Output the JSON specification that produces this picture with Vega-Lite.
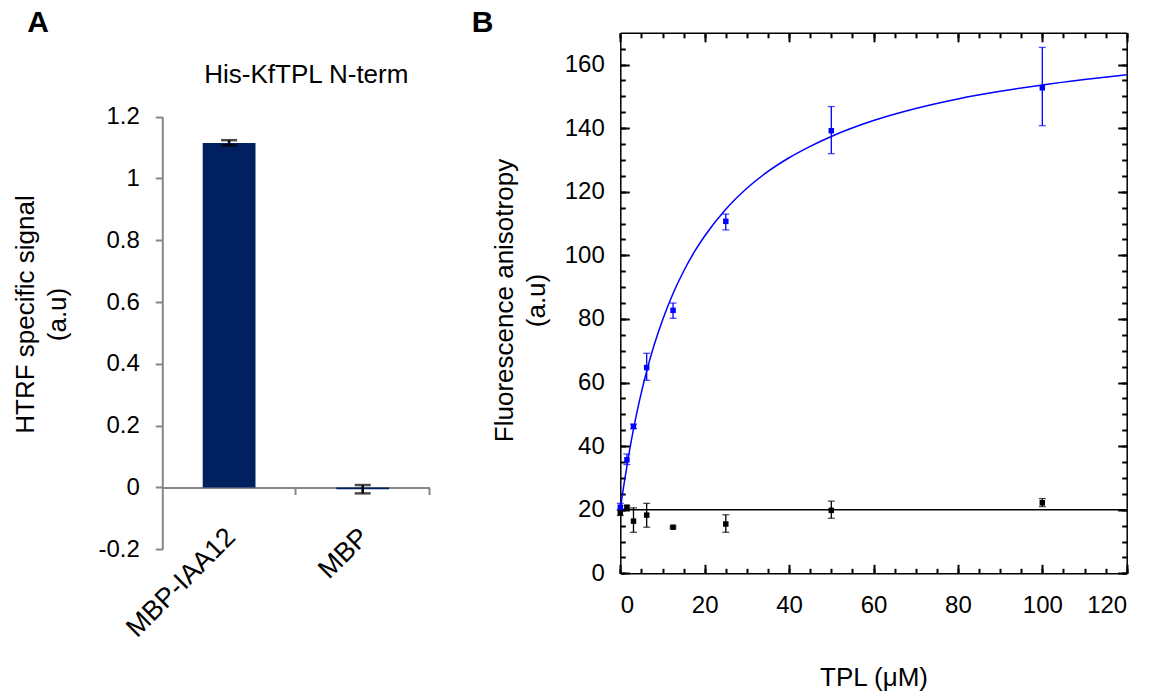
{
  "$schema": "https://vega.github.io/schema/vega-lite/v6.json",
  "width": 1162,
  "height": 693,
  "autosize": "none",
  "padding": 0,
  "background": "white",
  "config": {
    "view": {"stroke": null},
    "axis": {
      "grid": false,
      "labelFont": "Liberation Sans",
      "titleFont": "Liberation Sans",
      "labelColor": "black",
      "titleColor": "black",
      "titleFontWeight": "normal",
      "labelFontSize": 24,
      "titleFontSize": 26
    }
  },
  "datasets": {
    "htrf": [
      {"construct": "MBP-IAA12", "signal": 1.115, "lo": 1.107, "hi": 1.124},
      {"construct": "MBP", "signal": -0.006, "lo": -0.019, "hi": 0.008}
    ],
    "anisotropy": [
      {"sample": "IAA12", "tpl": 0, "mean": 20.8, "lo": 19.8, "hi": 22.0},
      {"sample": "IAA12", "tpl": 1.5625, "mean": 35.7, "lo": 34.2, "hi": 37.5},
      {"sample": "IAA12", "tpl": 3.125, "mean": 46.2, "lo": 45.5, "hi": 46.9},
      {"sample": "IAA12", "tpl": 6.25, "mean": 64.7, "lo": 60.7, "hi": 69.2},
      {"sample": "IAA12", "tpl": 12.5, "mean": 82.7, "lo": 80.2, "hi": 85.0},
      {"sample": "IAA12", "tpl": 25, "mean": 110.7, "lo": 108.0, "hi": 113.0},
      {"sample": "IAA12", "tpl": 50, "mean": 139.2, "lo": 132.0, "hi": 146.8},
      {"sample": "IAA12", "tpl": 100, "mean": 152.7, "lo": 140.8, "hi": 165.4},
      {"sample": "control", "tpl": 0, "mean": 19.0, "lo": 18.2, "hi": 20.0},
      {"sample": "control", "tpl": 1.5625, "mean": 20.8, "lo": 20.3, "hi": 21.3},
      {"sample": "control", "tpl": 3.125, "mean": 16.4, "lo": 12.9, "hi": 20.6},
      {"sample": "control", "tpl": 6.25, "mean": 18.3, "lo": 14.5, "hi": 22.0},
      {"sample": "control", "tpl": 12.5, "mean": 14.5, "lo": 14.2, "hi": 14.8},
      {"sample": "control", "tpl": 25, "mean": 15.5, "lo": 12.9, "hi": 18.4},
      {"sample": "control", "tpl": 50, "mean": 19.8, "lo": 17.3, "hi": 22.7},
      {"sample": "control", "tpl": 100, "mean": 22.2, "lo": 21.0, "hi": 23.5}
    ],
    "fits": [
      {"sample": "IAA12", "tpl": 0, "fit": 20.0},
      {"sample": "IAA12", "tpl": 0.5, "fit": 24.7},
      {"sample": "IAA12", "tpl": 1, "fit": 29.1},
      {"sample": "IAA12", "tpl": 2, "fit": 37.2},
      {"sample": "IAA12", "tpl": 3, "fit": 44.5},
      {"sample": "IAA12", "tpl": 4, "fit": 51.0},
      {"sample": "IAA12", "tpl": 5, "fit": 56.9},
      {"sample": "IAA12", "tpl": 6, "fit": 62.3},
      {"sample": "IAA12", "tpl": 8, "fit": 71.7},
      {"sample": "IAA12", "tpl": 10, "fit": 79.6},
      {"sample": "IAA12", "tpl": 12.5, "fit": 88.0},
      {"sample": "IAA12", "tpl": 15, "fit": 95.0},
      {"sample": "IAA12", "tpl": 17.5, "fit": 101.0},
      {"sample": "IAA12", "tpl": 20, "fit": 106.1},
      {"sample": "IAA12", "tpl": 25, "fit": 114.5},
      {"sample": "IAA12", "tpl": 30, "fit": 121.1},
      {"sample": "IAA12", "tpl": 35, "fit": 126.4},
      {"sample": "IAA12", "tpl": 40, "fit": 130.7},
      {"sample": "IAA12", "tpl": 45, "fit": 134.3},
      {"sample": "IAA12", "tpl": 50, "fit": 137.4},
      {"sample": "IAA12", "tpl": 60, "fit": 142.4},
      {"sample": "IAA12", "tpl": 70, "fit": 146.2},
      {"sample": "IAA12", "tpl": 80, "fit": 149.2},
      {"sample": "IAA12", "tpl": 90, "fit": 151.6},
      {"sample": "IAA12", "tpl": 100, "fit": 153.6},
      {"sample": "IAA12", "tpl": 110, "fit": 155.3},
      {"sample": "IAA12", "tpl": 120, "fit": 156.8},
      {"sample": "control", "tpl": 0, "fit": 20.0},
      {"sample": "control", "tpl": 120, "fit": 20.0}
    ]
  },
  "layer": [
    {
      "data": {"name": "htrf"},
      "layer": [
        {
          "mark": {"type": "bar", "color": "#002060"},
          "encoding": {
            "x": {
              "field": "construct", "type": "nominal", "sort": null,
              "scale": {"domain": ["MBP-IAA12", "MBP"], "range": [162.3, 429.5], "paddingInner": 0.605, "paddingOuter": 0.3025},
              "axis": {
                "orient": "bottom", "offset": -205.5, "title": null,
                "domain": true, "domainColor": "#878787", "domainWidth": 2,
                "ticks": false, "tickSize": 0,
                "labelAngle": -45, "labelAlign": "right", "labelBaseline": "middle",
                "labelFontSize": 27, "labelPadding": 45, "labelOffset": 2
              }
            },
            "y": {
              "field": "signal", "type": "quantitative",
              "scale": {"domain": [-0.2, 1.2], "range": [549.3, 116.7], "nice": false},
              "axis": {
                "orient": "left", "offset": -162.3,
                "values": [-0.2, 0, 0.2, 0.4, 0.6, 0.8, 1, 1.2],
                "labelExpr": "toString(round(datum.value*10)/10)",
                "domainColor": "#878787", "domainWidth": 2,
                "tickColor": "#878787", "tickWidth": 2, "tickSize": 7,
                "labelPadding": 16,
                "title": ["HTRF specific signal", "(a.u)"],
                "titleAngle": 270, "titleX": -137.3, "titleY": 314,
                "titleAlign": "center", "titleBaseline": "middle", "titleLineHeight": 32
              }
            },
            "y2": {"datum": 0}
          }
        },
        {
          "mark": {"type": "rule", "color": "black", "strokeWidth": 2.5},
          "encoding": {
            "x": {
              "field": "construct", "type": "nominal", "sort": null,
              "axis": {
                "orient": "bottom", "offset": -205.5, "title": null,
                "domain": false, "labels": false,
                "ticks": true, "tickSize": 7, "tickColor": "#878787", "tickWidth": 2,
                "bandPosition": 1.765
              }
            },
            "y": {"field": "lo", "type": "quantitative", "axis": null},
            "y2": {"field": "hi"}
          }
        },
        {
          "mark": {"type": "tick", "orient": "horizontal", "color": "black", "size": 16, "thickness": 2.5},
          "encoding": {
            "x": {
              "field": "construct", "type": "nominal", "sort": null,
              "axis": {
                "orient": "top", "offset": 0,
                "domain": false, "labels": false, "ticks": false,
                "title": "His-KfTPL N-term", "titleX": 305.8, "titleY": 74,
                "titleAlign": "center", "titleBaseline": "middle", "titleFontSize": 26
              }
            },
            "y": {"field": "lo", "type": "quantitative", "axis": null}
          }
        },
        {
          "mark": {"type": "tick", "orient": "horizontal", "color": "black", "size": 16, "thickness": 2.5},
          "encoding": {
            "x": {
              "field": "construct", "type": "nominal", "sort": null,
              "axis": {
                "orient": "top", "offset": 0,
                "domain": false, "labels": false, "ticks": false,
                "title": "A", "titleX": 37.5, "titleY": 22.5,
                "titleAlign": "center", "titleBaseline": "middle",
                "titleFontSize": 30, "titleFontWeight": "bold"
              }
            },
            "y": {"field": "hi", "type": "quantitative", "axis": null}
          }
        }
      ],
      "resolve": {"axis": {"x": "independent", "y": "independent"}}
    },
    {
      "layer": [
        {
          "data": {"name": "fits"},
          "mark": {"type": "line", "strokeWidth": 1.5, "interpolate": "monotone"},
          "encoding": {
            "x": {
              "field": "tpl", "type": "quantitative",
              "scale": {"domain": [0, 120], "range": [620.3, 1126.7], "nice": false, "zero": false},
              "axis": {
                "orient": "bottom", "offset": -119.7,
                "values": [0, 20, 40, 60, 80, 100, 120],
                "domain": true, "domainColor": "black", "domainWidth": 1.5,
                "ticks": false, "tickSize": 0, "labelPadding": 20,
                "title": "TPL (μM)", "titleX": 873.5, "titleY": 103.7,
                "titleAlign": "center", "titleBaseline": "middle"
              }
            },
            "y": {
              "field": "fit", "type": "quantitative",
              "scale": {"domain": [0, 170], "range": [573.3, 32.8], "nice": false, "zero": false},
              "axis": {
                "orient": "left", "offset": -620.3,
                "values": [0, 20, 40, 60, 80, 100, 120, 140, 160],
                "domain": true, "domainColor": "black", "domainWidth": 1.5,
                "ticks": false, "tickSize": 0, "labelPadding": 16,
                "title": ["Fluorescence anisotropy", "(a.u)"],
                "titleAngle": 270, "titleX": -116.3, "titleY": 300,
                "titleAlign": "center", "titleBaseline": "middle", "titleLineHeight": 32
              }
            },
            "color": {
              "field": "sample", "type": "nominal",
              "scale": {"domain": ["IAA12", "control"], "range": ["#0000ff", "#000000"]},
              "legend": null
            }
          }
        },
        {
          "data": {"name": "anisotropy"},
          "mark": {"type": "rule", "strokeWidth": 1.3},
          "encoding": {
            "x": {"field": "tpl", "type": "quantitative", "axis": null},
            "y": {
              "field": "lo", "type": "quantitative",
              "axis": {
                "orient": "right", "offset": -541.7,
                "values": [0, 20, 40, 60, 80, 100, 120, 140, 160],
                "domain": false, "labels": false,
                "ticks": true, "tickSize": 9, "tickColor": "#000000", "tickWidth": 2,
                "title": "B", "titleAngle": 0, "titleX": -138.3, "titleY": 22.5,
                "titleAlign": "center", "titleBaseline": "middle",
                "titleFontSize": 30, "titleFontWeight": "bold"
              }
            },
            "y2": {"field": "hi"},
            "color": {"field": "sample", "type": "nominal", "legend": null}
          }
        },
        {
          "data": {"name": "anisotropy"},
          "mark": {"type": "tick", "orient": "horizontal", "size": 7, "thickness": 1.3},
          "encoding": {
            "x": {"field": "tpl", "type": "quantitative", "axis": null},
            "y": {
              "field": "lo", "type": "quantitative",
              "axis": {
                "orient": "right", "offset": -541.7,
                "values": [0, 5, 10, 15, 20, 25, 30, 35, 40, 45, 50, 55, 60, 65, 70, 75, 80, 85, 90, 95, 100, 105, 110, 115, 120, 125, 130, 135, 140, 145, 150, 155, 160, 165],
                "domain": false, "labels": false, "title": null,
                "ticks": true, "tickSize": 5, "tickColor": "#000000", "tickWidth": 2
              }
            },
            "color": {"field": "sample", "type": "nominal", "legend": null}
          }
        },
        {
          "data": {"name": "anisotropy"},
          "mark": {"type": "tick", "orient": "horizontal", "size": 7, "thickness": 1.3},
          "encoding": {
            "x": {
              "field": "tpl", "type": "quantitative",
              "axis": {
                "orient": "bottom", "offset": -660.2,
                "values": [0, 20, 40, 60, 80, 100, 120],
                "domain": true, "domainColor": "black", "domainWidth": 1.5,
                "labels": false, "title": null, "ticks": false
              }
            },
            "y": {
              "field": "hi", "type": "quantitative",
              "axis": {
                "orient": "left", "offset": -1126.7,
                "values": [0, 20, 40, 60, 80, 100, 120, 140, 160],
                "domain": true, "domainColor": "black", "domainWidth": 1.5,
                "labels": false, "title": null,
                "ticks": true, "tickSize": 9, "tickColor": "#000000", "tickWidth": 2
              }
            },
            "color": {"field": "sample", "type": "nominal", "legend": null}
          }
        },
        {
          "data": {"name": "anisotropy"},
          "mark": {"type": "point", "shape": "square", "filled": true, "size": 30, "opacity": 1},
          "encoding": {
            "x": {"field": "tpl", "type": "quantitative", "axis": null},
            "y": {
              "field": "mean", "type": "quantitative",
              "axis": {
                "orient": "left", "offset": -1126.7,
                "values": [0, 5, 10, 15, 20, 25, 30, 35, 40, 45, 50, 55, 60, 65, 70, 75, 80, 85, 90, 95, 100, 105, 110, 115, 120, 125, 130, 135, 140, 145, 150, 155, 160, 165],
                "domain": false, "labels": false, "title": null,
                "ticks": true, "tickSize": 5, "tickColor": "#000000", "tickWidth": 2
              }
            },
            "color": {"field": "sample", "type": "nominal", "legend": null}
          }
        }
      ],
      "resolve": {"axis": {"x": "independent", "y": "independent"}}
    },
    {
      "data": {"name": "fits"},
      "layer": [
        {
          "mark": {"type": "point", "opacity": 0, "size": 1},
          "encoding": {
            "x": {
              "field": "tpl", "type": "ordinal", "sort": null,
              "scale": {"type": "point", "domain": [0, 5, 10, 15, 20, 25, 30, 35, 40, 45, 50, 55, 60, 65, 70, 75, 80, 85, 90, 95, 100, 105, 110, 115, 120], "range": [620.3, 1126.7], "padding": 0},
              "axis": {
                "orient": "top", "offset": -573.3,
                "values": [0, 20, 40, 60, 80, 100, 120],
                "domain": false, "labels": false, "title": null,
                "ticks": true, "tickSize": 9, "tickColor": "#000000", "tickWidth": 2
              }
            }
          }
        },
        {
          "mark": {"type": "point", "opacity": 0, "size": 1},
          "encoding": {
            "x": {
              "field": "tpl", "type": "ordinal", "sort": null,
              "axis": {
                "orient": "top", "offset": -573.3,
                "domain": false, "labels": false, "title": null,
                "ticks": true, "tickSize": 5, "tickColor": "#000000", "tickWidth": 2
              }
            }
          }
        },
        {
          "mark": {"type": "point", "opacity": 0, "size": 1},
          "encoding": {
            "x": {
              "field": "tpl", "type": "ordinal", "sort": null,
              "axis": {
                "orient": "bottom", "offset": -660.2,
                "values": [0, 20, 40, 60, 80, 100, 120],
                "domain": false, "labels": false, "title": null,
                "ticks": true, "tickSize": 9, "tickColor": "#000000", "tickWidth": 2
              }
            }
          }
        },
        {
          "mark": {"type": "point", "opacity": 0, "size": 1},
          "encoding": {
            "x": {
              "field": "tpl", "type": "ordinal", "sort": null,
              "axis": {
                "orient": "bottom", "offset": -660.2,
                "domain": false, "labels": false, "title": null,
                "ticks": true, "tickSize": 5, "tickColor": "#000000", "tickWidth": 2
              }
            }
          }
        }
      ],
      "resolve": {"axis": {"x": "independent"}}
    }
  ],
  "resolve": {
    "scale": {"x": "independent", "y": "independent", "color": "independent"},
    "axis": {"x": "independent", "y": "independent"}
  }
}
